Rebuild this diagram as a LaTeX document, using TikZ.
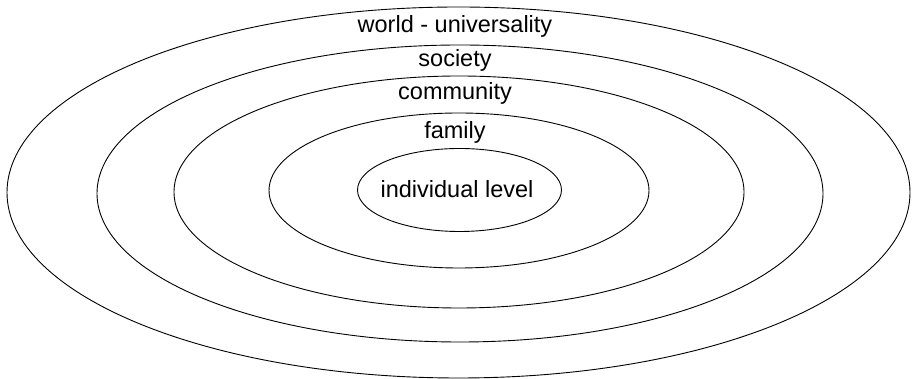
\documentclass[tikz,border=0pt]{standalone}
\usepackage{fontspec}
\setmainfont{Liberation Sans}
\usetikzlibrary{shapes.geometric}
\begin{document}
\begin{tikzpicture}[x=1pt,y=1pt,
  ring/.style={draw=black,line width=0.9pt,ellipse,inner sep=0pt,fill=none},
  lbl/.style={anchor=base,inner sep=0pt,font=\fontsize{23.5}{28}\selectfont}]
\useasboundingbox (0,0) rectangle (912,379);
\node[ring,minimum width=903,minimum height=371] (world) at (458.5,186.5) {};
\node[ring,minimum width=726,minimum height=297] (society) at (460,185.5) {};
\node[ring,minimum width=570,minimum height=232] (community) at (459,187) {};
\node[ring,minimum width=380,minimum height=155] (family) at (459,188.5) {};
\node[ring,minimum width=204,minimum height=83] (individual) at (459.5,189) {};
\node[lbl] (tworld) at (455,346) {world - universality};
\node[lbl] (tsociety) at (455,312) {society};
\node[lbl] (tcommunity) at (455,279) {community};
\node[lbl] (tfamily) at (455,240) {family};
\node[lbl] (tindividual) at (457,181) {individual level};
\end{tikzpicture}
\end{document}
